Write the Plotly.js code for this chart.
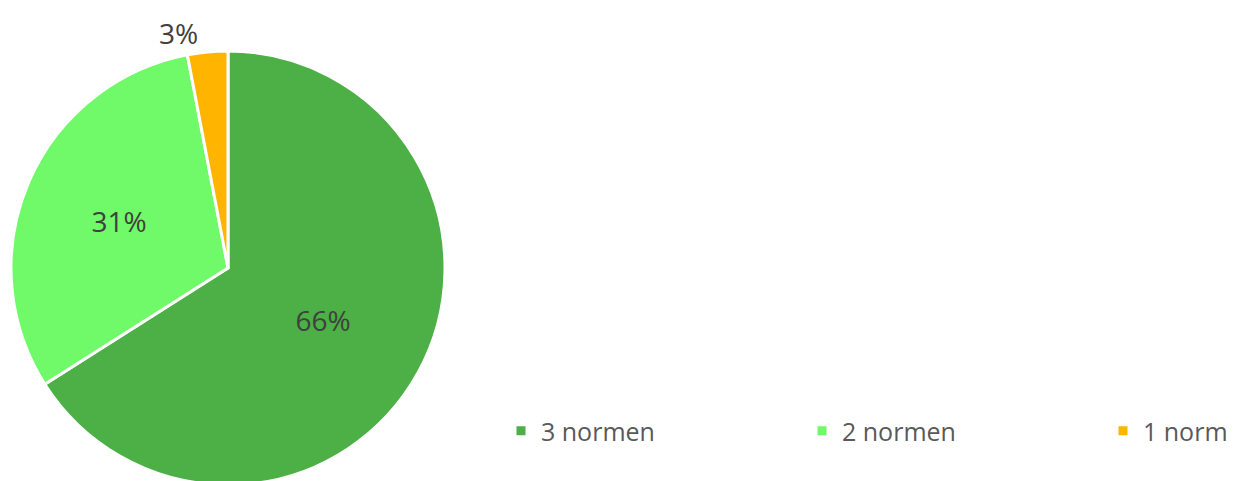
<!DOCTYPE html>
<html><head><meta charset="utf-8">
<script src="https://cdn.plot.ly/plotly-3.0.1.min.js"></script>
<style>html,body{margin:0;padding:0;overflow:hidden;background:#fff}#c{width:1600px;height:500px}</style>
</head><body><div id="c"></div>
<script>
const categories = ["3 normen", "2 normen", "1 norm"];
const values = [66, 31, 3];
const colors = ["#4CB046", "#70FA6A", "#FFB400"];
const textpos = ["inside", "inside", "outside"];

Plotly.newPlot("c", [{
  type: "pie",
  labels: categories,
  values: values,
  sort: false,
  direction: "clockwise",
  rotation: 0,
  marker: {colors: colors, line: {color: "#ffffff", width: 3}},
  texttemplate: "%{percent:.0%}",
  textposition: textpos,
  insidetextorientation: "horizontal",
  textfont: {family: "Open Sans", size: 28, color: "#404040"},
  outsidetextfont: {family: "Open Sans", size: 28, color: "#404040"},
  domain: {x: [11/1600, 445/1600], y: [0.03, 0.898]},
  hoverinfo: "none"
}], {
  width: 1600, height: 500,
  margin: {l: 0, r: 0, t: 0, b: 0},
  paper_bgcolor: "#fff",
  showlegend: true,
  legend: {orientation: "h", x: 501/1600, y: 0.138, xanchor: "left", yanchor: "middle",
    bgcolor: "rgba(0,0,0,0)",
    font: {family: "Open Sans", size: 25, color: "#595959"},
    entrywidth: 256, entrywidthmode: "pixels", itemwidth: 30, traceorder: "normal"}
}, {displayModeBar: false, staticPlot: true});
</script></body></html>
